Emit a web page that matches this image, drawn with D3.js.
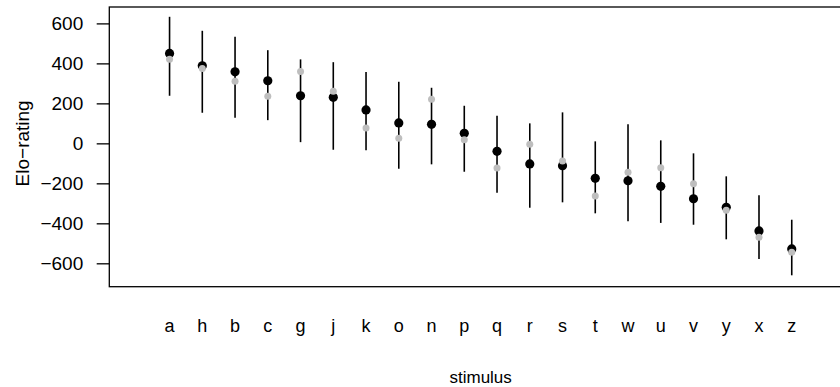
<!DOCTYPE html>
<html>
<head>
<meta charset="utf-8">
<script src="https://cdn.jsdelivr.net/npm/d3@7"></script>
<style>
  html, body { margin: 0; padding: 0; background: #fff; }
  svg { display: block; font-family: "Liberation Sans", Arial, Helvetica, sans-serif; }
</style>
</head>
<body>
<div id="chart"></div>
<script>
// stimuli, ordered by rating
const stimuli = ['a', 'h', 'b', 'c', 'g', 'j', 'k', 'o', 'n', 'p', 'q', 'r', 's', 't', 'w', 'u', 'v', 'y', 'x', 'z']
// black points: mean Elo-rating
const elo = [450, 388, 358, 313, 238, 230, 167, 102, 95, 50, -40, -103, -112, -175, -187, -215, -277, -320, -438, -528]
// grey points: second rating
const eloAlt = [421, 375, 311, 235, 360, 261, 77, 25, 220, 18, -123, -5, -88, -263, -145, -122, -202, -335, -470, -545]
// vertical ranges
const upper = [633, 563, 533, 466, 420, 406, 357, 308, 278, 188, 138, 100, 155, 10, 96, 15, -50, -165, -260, -382]
const lower = [238, 153, 128, 116, 6, -32, -35, -127, -105, -142, -247, -322, -295, -350, -390, -398, -407, -480, -578, -660]
const yTicks = [-600, -400, -200, 0, 200, 400, 600]

const W = 840, H = 387
const margin = { left: 109.3, top: 7, right: 852, bottom: 286.7 }

const svg = d3.select('#chart').append('svg')
  .attr('width', W).attr('height', H)

// x runs over index 1..20, with R's 4% padding on 0..21
const x = d3.scaleLinear().domain([-0.84, 21.84]).range([margin.left, margin.right])
const y = d3.scaleLinear().domain([-717, 682]).range([margin.bottom, margin.top])

const data = stimuli.map((s, i) => ({
  s, i: i + 1, elo: elo[i], alt: eloAlt[i], lo: lower[i], hi: upper[i]
}))

// y axis
const yAxis = d3.axisLeft(y).tickValues(yTicks).tickSize(12.6).tickPadding(13.5)
const gy = svg.append('g').attr('transform', `translate(${margin.left},0)`).call(yAxis)
gy.select('.domain').remove()
gy.selectAll('line').attr('stroke', '#000').attr('stroke-width', 1.3)
gy.selectAll('text').attr('font-size', 19).attr('fill', '#000')
  .attr('font-family', '"Liberation Sans", Arial, sans-serif')

// x labels (no ticks)
svg.append('g').selectAll('text').data(data).join('text')
  .attr('x', d => x(d.i)).attr('y', 332)
  .attr('text-anchor', 'middle').attr('font-size', 18)
  .text(d => d.s)

// ranges
svg.append('g').selectAll('line').data(data).join('line')
  .attr('x1', d => x(d.i)).attr('x2', d => x(d.i))
  .attr('y1', d => y(d.hi)).attr('y2', d => y(d.lo))
  .attr('stroke', '#000').attr('stroke-width', 1.6)

svg.append('g').selectAll('circle').data(data).join('circle')
  .attr('cx', d => x(d.i)).attr('cy', d => y(d.elo)).attr('r', 4.6)
  .attr('fill', '#000')

svg.append('g').selectAll('circle').data(data).join('circle')
  .attr('cx', d => x(d.i)).attr('cy', d => y(d.alt)).attr('r', 3.5)
  .attr('fill', '#bebebe')

// plot box
svg.append('rect')
  .attr('x', margin.left).attr('y', margin.top)
  .attr('width', margin.right - margin.left).attr('height', margin.bottom - margin.top)
  .attr('fill', 'none').attr('stroke', '#000').attr('stroke-width', 1.3)

// axis titles
svg.append('text').attr('x', x(10.5)).attr('y', 383)
  .attr('text-anchor', 'middle').attr('font-size', 17).text('stimulus')
svg.append('text')
  .attr('transform', `translate(29,${y(0)}) rotate(-90)`)
  .attr('text-anchor', 'middle').attr('font-size', 19).text('Elo\u2212rating')
</script>
</body>
</html>
